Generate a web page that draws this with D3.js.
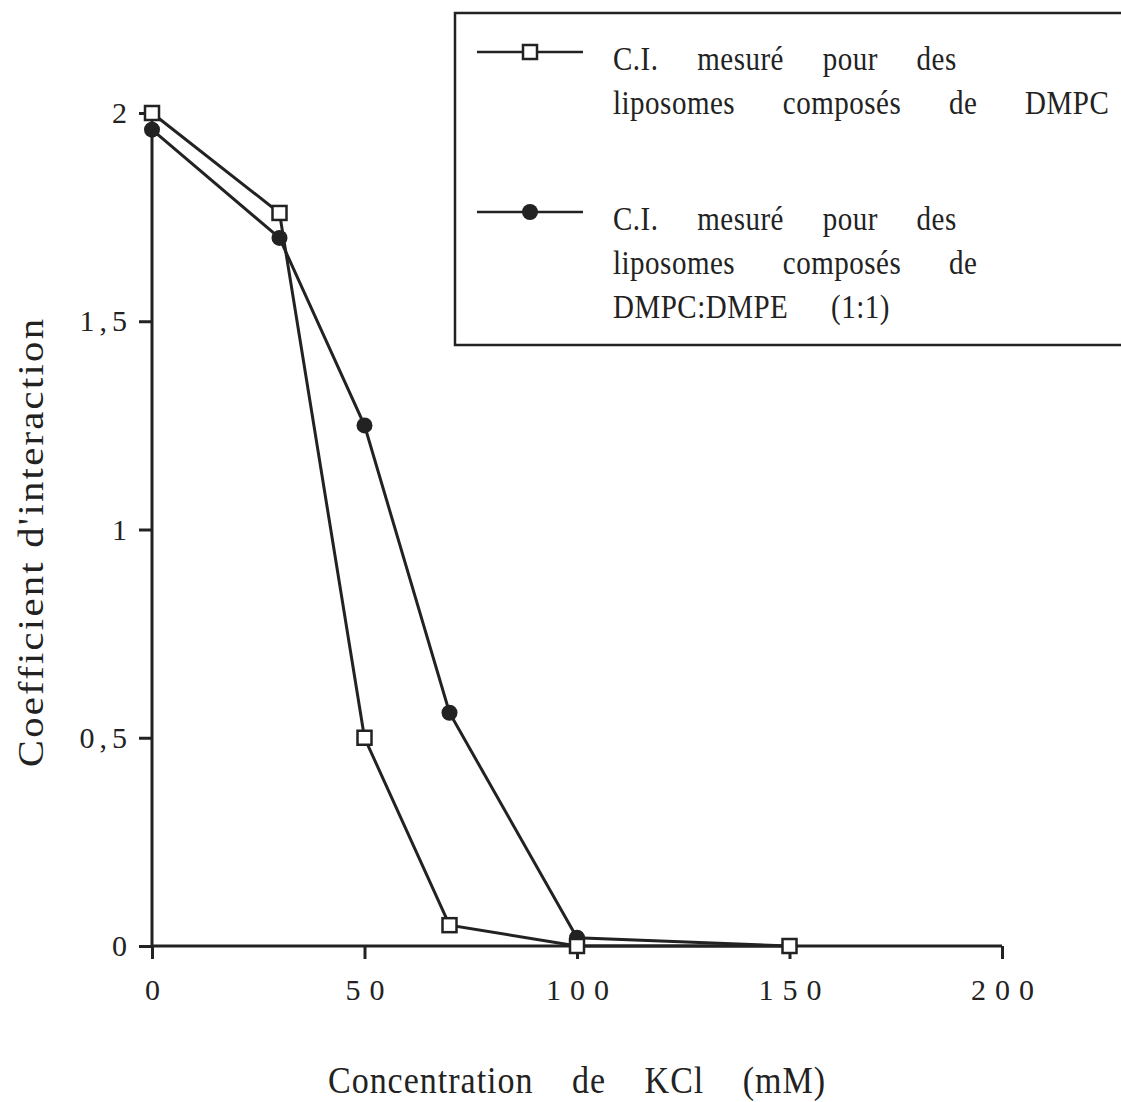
<!DOCTYPE html>
<html>
<head>
<meta charset="utf-8">
<script src="https://cdn.jsdelivr.net/npm/d3@7"></script>
<style>
  body { margin: 0; background: #fff; }
  svg { font-family: "Liberation Serif", "Times New Roman", serif; }
</style>
</head>
<body>
<svg id="chart" width="1121" height="1102"></svg>
<script>
// Data
const concentrations = [0, 30, 50, 70, 100, 150];
const dmpcValues = [2.0, 1.76, 0.5, 0.05, 0, 0];
const dmpeValues = [1.96, 1.70, 1.25, 0.56, 0.02, 0];
const xTicks = [0, 50, 100, 150, 200];
const yTicks = [0, 0.5, 1, 1.5, 2];
const legendDmpc = ["C.I. mesuré pour des", "liposomes composés de DMPC"];
const legendDmpe = ["C.I. mesuré pour des", "liposomes composés de", "DMPC:DMPE (1:1)"];

const ink = "#222";
// the scanned figure's type is a little taller than it is wide
const stretch = 1.13;
const svg = d3.select("#chart");
const margin = { top: 113, left: 152 };
const width = 850, height = 833;

const chart = svg.append("g")
  .attr("transform", `translate(${margin.left},${margin.top})`);

const xScale = d3.scaleLinear().domain([0, 200]).range([0, width]);
const yScale = d3.scaleLinear().domain([0, 2]).range([height, 0]);

// x-axis (ticks hang below the line)
const xAxisG = chart.append("g")
  .attr("transform", `translate(0,${height})`)
  .call(d3.axisBottom(xScale).tickValues(xTicks).tickSize(13).tickPadding(20)
    .tickFormat(d => String(d)));
xAxisG.selectAll("text")
  .attr("font-size", 30).attr("fill", ink)
  .attr("font-family", "Liberation Serif")
  .attr("letter-spacing", "9px")
  .attr("dx", "4.5px");

// y-axis, decimal comma
const yAxisG = chart.append("g")
  .call(d3.axisLeft(yScale).tickValues(yTicks).tickSize(13).tickPadding(12)
    .tickFormat(d => d3.format("")(d).replace(".", ",")));
yAxisG.selectAll("text")
  .attr("font-size", 30).attr("fill", ink)
  .attr("font-family", "Liberation Serif")
  .attr("letter-spacing", "5px")
  .attr("dx", "5px");

chart.selectAll(".tick line")
  .attr("stroke", ink).attr("stroke-width", 3);
chart.selectAll(".domain").remove();
xAxisG.append("line").attr("x1", 0).attr("x2", width)
  .attr("stroke", ink).attr("stroke-width", 3);
yAxisG.append("line").attr("y1", 0).attr("y2", height)
  .attr("stroke", ink).attr("stroke-width", 3);

// Axis titles
svg.append("text")
  .attr("transform", `translate(${margin.left + xScale(100)},1093) scale(1,${stretch})`)
  .attr("text-anchor", "middle").attr("font-size", 34).attr("fill", ink)
  .attr("letter-spacing", "1px").attr("word-spacing", "29px")
  .text("Concentration de KCl (mM)");

svg.append("text")
  .attr("transform", `translate(43,542) rotate(-90) scale(${stretch},1)`)
  .attr("text-anchor", "middle").attr("font-size", 36).attr("fill", ink)
  .attr("letter-spacing", "2px")
  .text("Coefficient d'interaction");

// Lines
const line = d3.line()
  .x((d, i) => xScale(concentrations[i]))
  .y(d => yScale(d));

const series = [
  { name: "dmpe", values: dmpeValues },
  { name: "dmpc", values: dmpcValues }
];

chart.selectAll("path.line")
  .data(series)
  .join("path")
    .attr("class", "line")
    .attr("fill", "none")
    .attr("stroke", ink)
    .attr("stroke-width", 3)
    .attr("d", d => line(d.values));

// Markers: filled circles, then open squares on top
chart.selectAll("circle.dmpe")
  .data(dmpeValues)
  .join("circle")
    .attr("class", "dmpe")
    .attr("cx", (d, i) => xScale(concentrations[i]))
    .attr("cy", d => yScale(d))
    .attr("r", 8)
    .attr("fill", ink);

const sq = 14;
chart.selectAll("rect.dmpc")
  .data(dmpcValues)
  .join("rect")
    .attr("class", "dmpc")
    .attr("x", (d, i) => xScale(concentrations[i]) - sq / 2)
    .attr("y", d => yScale(d) - sq / 2)
    .attr("width", sq).attr("height", sq)
    .attr("fill", "#fff")
    .attr("stroke", ink)
    .attr("stroke-width", 2.5);

// Legend box (runs off the right edge)
const legend = svg.append("g");
legend.append("rect")
  .attr("x", 455).attr("y", 13).attr("width", 700).attr("height", 332)
  .attr("fill", "#fff").attr("stroke", ink).attr("stroke-width", 2.5);

// justified lines in the original: each line gets its own word gap
const entries = [
  { y: 52, lines: legendDmpc, gaps: [31, 40], marker: "square" },
  { y: 212, lines: legendDmpe, gaps: [31, 40, 35], marker: "circle" }
];

entries.forEach(e => {
  legend.append("line")
    .attr("x1", 477).attr("x2", 583).attr("y1", e.y).attr("y2", e.y)
    .attr("stroke", ink).attr("stroke-width", 2.5);
  if (e.marker === "square") {
    legend.append("rect")
      .attr("x", 530 - 7).attr("y", e.y - 7).attr("width", 14).attr("height", 14)
      .attr("fill", "#fff").attr("stroke", ink).attr("stroke-width", 2.5);
  } else {
    legend.append("circle")
      .attr("cx", 530).attr("cy", e.y).attr("r", 8).attr("fill", ink);
  }
  e.lines.forEach((t, i) => {
    legend.append("text")
      .attr("transform", `translate(613,${e.y + 18 + i * 44}) scale(1,${stretch})`)
      .attr("font-size", 29).attr("fill", ink)
      .attr("letter-spacing", "0.5px")
      .attr("word-spacing", e.gaps[i] + "px")
      .text(t);
  });
});
</script>
</body>
</html>
